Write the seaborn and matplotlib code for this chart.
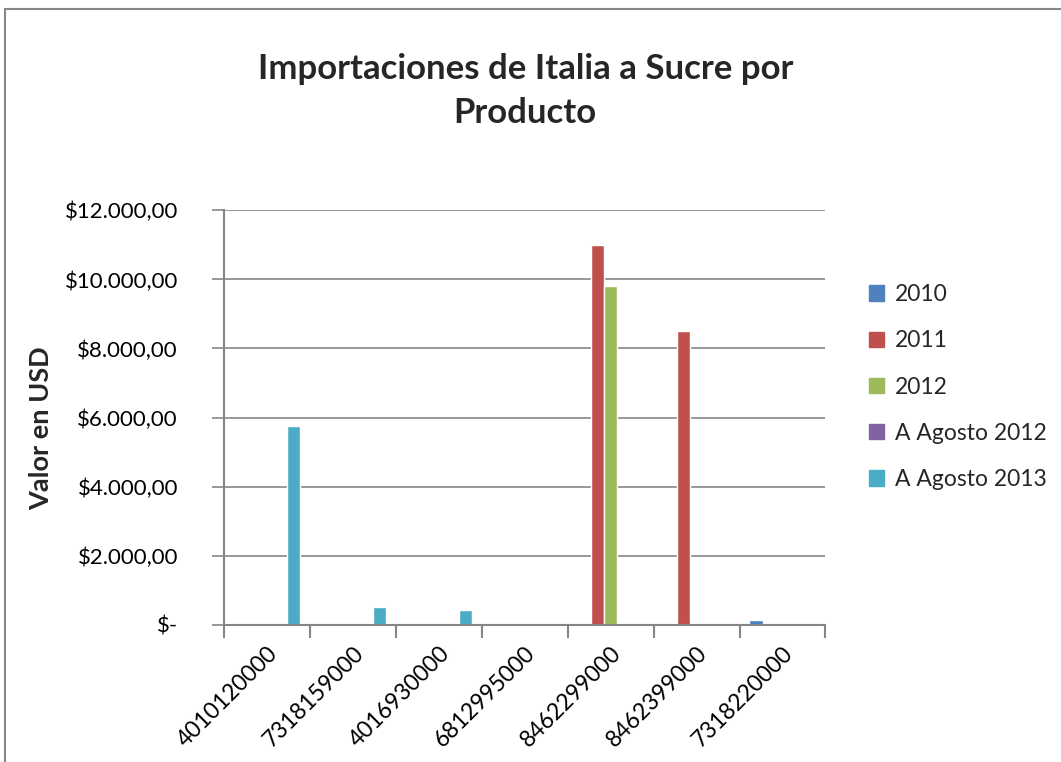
import matplotlib
matplotlib.use('Agg')
import matplotlib.pyplot as plt
import matplotlib.patches as mpatches
from matplotlib.ticker import FuncFormatter, FixedLocator
import pandas as pd
import seaborn as sns

# data
productos = ['4010120000', '7318159000', '4016930000', '6812995000',
             '8462299000', '8462399000', '7318220000']
series = ['2010', '2011', '2012', 'A Agosto 2012', 'A Agosto 2013']
v2010 = [0, 0, 0, 0, 0, 0, 150]
v2011 = [0, 0, 0, 0, 11000, 8500, 0]
v2012 = [0, 0, 0, 0, 9800, 0, 0]
v_ago2012 = [0, 0, 0, 0, 0, 0, 0]
v_ago2013 = [5760, 520, 420, 20, 0, 0, 0]
colores = ['#4F81BD', '#C0504D', '#9BBB59', '#8064A2', '#4BACC6']

rows = []
for serie, vals in zip(series, [v2010, v2011, v2012, v_ago2012, v_ago2013]):
    for prod, v in zip(productos, vals):
        rows.append({'Producto': prod, 'Serie': serie, 'Valor': v})
df = pd.DataFrame(rows)

sns.set_theme(style='white')
plt.rcParams['font.family'] = ['Lato', 'DejaVu Sans']
gris = '#868686'

fig = plt.figure(figsize=(10.61, 7.62), dpi=100)
ax = fig.add_axes([0.211, 0.18, 0.567, 0.544])

sns.barplot(data=df, x='Producto', y='Valor', hue='Serie', order=productos,
            hue_order=series, palette=colores, width=0.77, saturation=1,
            errorbar=None, ax=ax, legend=False)

ax.set_xlim(-0.5, len(productos) - 0.5)
ax.set_ylim(0, 12000)
ax.set_yticks(range(0, 12001, 2000))


def fmt(v, pos):
    if v == 0:
        return '$-'
    s = '{:,.2f}'.format(v).replace(',', 'X').replace('.', ',').replace('X', '.')
    return '$' + s


ax.yaxis.set_major_formatter(FuncFormatter(fmt))
ax.yaxis.grid(True, color=gris, linewidth=1.2)
ax.set_axisbelow(True)
for s in ['top', 'right']:
    ax.spines[s].set_visible(False)
for s in ['left', 'bottom']:
    ax.spines[s].set_color(gris)
    ax.spines[s].set_linewidth(1.5)

ax.tick_params(axis='y', which='major', left=True, length=9, width=1.2,
               color=gris, labelsize=16, pad=24, labelcolor='black')
ax.tick_params(axis='x', which='major', bottom=False, length=0, labelsize=16.5,
               labelcolor='black', pad=13)
ax.xaxis.set_minor_locator(FixedLocator([i - 0.5 for i in range(len(productos) + 1)]))
ax.tick_params(axis='x', which='minor', bottom=True, length=9, width=1.5, color=gris)
for lab in ax.get_xticklabels():
    lab.set_rotation(45)
    lab.set_ha('right')
    lab.set_rotation_mode('anchor')

ax.set_xlabel('')
ax.set_ylabel('')
fig.text(0.039, 0.438, 'Valor en USD', rotation=90, ha='center', va='center',
         fontsize=19.5, fontweight='bold')

fig.text(0.495, 0.881, 'Importaciones de Italia a Sucre por\nProducto', ha='center',
         va='center', fontsize=25, fontweight='bold', linespacing=1.45)

handles = [mpatches.Patch(color=c, label=s) for s, c in zip(series, colores)]
fig.legend(handles=handles, loc='center left', bbox_to_anchor=(0.80, 0.492),
           frameon=False, fontsize=16.5, handlelength=0.65, handleheight=0.65,
           handletextpad=0.45, labelspacing=1.1)

# outer chart frame (cropped on the right and bottom)
fig.add_artist(plt.Line2D([0.0045, 0.0045], [0.0, 0.988], transform=fig.transFigure,
                          color=gris, linewidth=1.5))
fig.add_artist(plt.Line2D([0.0045, 1.0], [0.988, 0.988], transform=fig.transFigure,
                          color=gris, linewidth=1.5))

fig.savefig('out.png', dpi=100)
